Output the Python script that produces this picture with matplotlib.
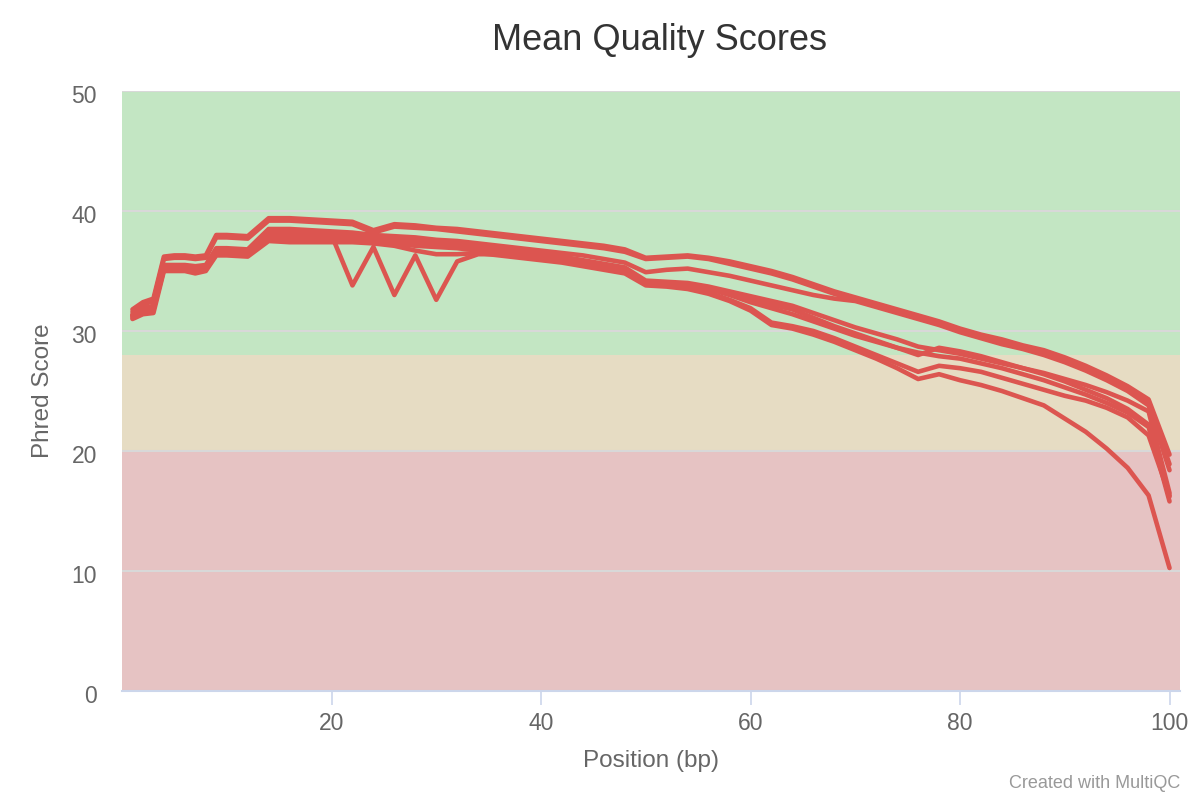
import matplotlib
matplotlib.use("Agg")
import matplotlib.pyplot as plt
import matplotlib.transforms as mtransforms

plt.rcParams['font.family'] = ['Liberation Sans', 'DejaVu Sans']

positions = [1, 2, 3, 4, 5, 6, 7, 8, 9, 10, 12, 14, 16, 18, 20, 22, 24, 26, 28, 30,
             32, 34, 36, 38, 40, 42, 44, 46, 48, 50, 52, 54, 56, 58, 60, 62, 64, 66,
             68, 70, 72, 74, 76, 78, 80, 82, 84, 86, 88, 90, 92, 94, 96, 98, 100]

sample_a = [31.8, 32.4, 32.7, 36.2, 36.3, 36.3, 36.2, 36.3, 38.0,
            38.0, 37.9, 39.4, 39.4, 39.3, 39.2, 39.1, 38.4, 38.9, 38.8, 38.6, 38.5, 38.3, 38.1,
            37.9, 37.7, 37.5, 37.3, 37.1, 36.8, 36.1, 36.2, 36.3, 36.1, 35.8, 35.4, 35.0, 34.5,
            33.9, 33.3, 32.8, 32.3, 31.8, 31.3, 30.8, 30.2, 29.7, 29.3, 28.8, 28.4, 27.8, 27.1,
            26.3, 25.4, 24.3, 19.7]
sample_b = [31.6, 32.2, 32.5, 36.0, 36.1, 36.1, 36.0, 36.1, 37.8,
            37.8, 37.7, 39.2, 39.2, 39.1, 39.0, 38.9, 38.2, 38.7, 38.6, 38.5, 38.3, 38.1, 37.9,
            37.7, 37.5, 37.3, 37.1, 36.9, 36.6, 36.0, 36.1, 36.2, 36.0, 35.6, 35.2, 34.8, 34.3,
            33.7, 33.1, 32.6, 32.1, 31.6, 31.1, 30.6, 30.0, 29.5, 29.1, 28.6, 28.2, 27.6, 26.9,
            26.1, 25.2, 24.0, 18.9]
sample_c = [31.4, 31.9, 32.1, 35.5, 35.5, 35.5, 35.4, 35.5, 36.9,
            36.9, 36.8, 38.5, 38.5, 38.4, 38.3, 38.2, 38.0, 37.9, 37.8, 37.6, 37.5, 37.3, 37.1,
            36.9, 36.7, 36.5, 36.3, 36.0, 35.7, 34.9, 35.1, 35.2, 34.9, 34.6, 34.2, 33.8, 33.4,
            33.0, 32.7, 32.5, 32.0, 31.5, 31.0, 30.5, 29.9, 29.4, 28.9, 28.5, 28.0, 27.4, 26.7,
            25.9, 25.0, 23.8, 18.4]
sample_d = [31.3, 31.8, 32.0, 35.4, 35.4, 35.4, 35.2, 35.4, 36.7,
            36.7, 36.6, 38.3, 38.2, 38.2, 38.1, 38.0, 37.8, 37.7, 37.5, 37.4, 37.2, 37.0, 36.8,
            36.6, 36.4, 36.2, 35.9, 35.6, 35.3, 34.2, 34.1, 34.0, 33.7, 33.3, 32.9, 32.5, 32.1,
            31.5, 30.9, 30.3, 29.8, 29.3, 28.7, 28.4, 28.1, 27.7, 27.3, 26.9, 26.5, 26.0, 25.5,
            24.9, 24.2, 23.3, 16.5]
sample_e = [31.2, 31.7, 31.9, 35.2, 35.2, 35.2, 35.0, 35.2, 36.5,
            36.5, 36.4, 38.1, 38.0, 37.9, 37.9, 37.8, 37.6, 37.5, 37.3, 37.2, 37.0, 36.8, 36.6,
            36.4, 36.2, 36.0, 35.7, 35.4, 35.1, 34.1, 34.0, 33.9, 33.6, 33.1, 32.6, 32.2, 31.8,
            31.1, 30.4, 29.8, 29.2, 28.6, 28.0, 28.6, 28.3, 27.9, 27.4, 26.9, 26.4, 25.8, 25.1,
            24.4, 23.5, 22.2, 15.8]
sample_f = [31.3, 31.8, 32.0, 35.3, 35.3, 35.3, 35.1, 35.3, 36.6,
            36.6, 36.5, 38.3, 38.2, 38.1, 38.0, 33.8, 37.0, 33.0, 36.3, 32.6, 35.8, 36.4, 36.4,
            36.2, 36.0, 35.8, 35.5, 35.2, 34.9, 33.9, 33.8, 33.6, 33.2, 32.6, 31.9, 30.7, 30.4,
            30.0, 29.4, 28.7, 28.0, 27.3, 26.6, 27.1, 26.9, 26.6, 26.1, 25.6, 25.1, 24.6, 24.2,
            23.6, 22.8, 21.3, 16.3]
sample_g = [31.0, 31.4, 31.5, 35.0, 35.0, 35.0, 34.8, 35.0, 36.3,
            36.3, 36.2, 37.5, 37.4, 37.4, 37.4, 37.4, 37.3, 37.1, 36.7, 36.4, 36.4, 36.5, 36.3,
            36.1, 35.9, 35.7, 35.4, 35.1, 34.8, 33.8, 33.7, 33.5, 33.1, 32.5, 31.7, 30.5, 30.2,
            29.7, 29.1, 28.4, 27.7, 26.9, 26.0, 26.4, 25.9, 25.5, 25.0, 24.4, 23.8, 22.7, 21.6,
            20.2, 18.6, 16.3, 10.25]
sample_h = [31.1, 31.6, 31.8, 35.1, 35.1, 35.1, 34.9, 35.1, 36.4,
            36.4, 36.3, 37.8, 37.7, 37.7, 37.6, 37.5, 37.4, 37.3, 37.1, 37.0, 36.9, 36.7, 36.5,
            36.3, 36.1, 35.9, 35.6, 35.3, 35.0, 34.0, 33.9, 33.8, 33.5, 33.0, 32.4, 31.9, 31.4,
            30.8, 30.2, 29.6, 29.1, 28.6, 28.2, 27.9, 27.7, 27.3, 26.9, 26.4, 25.9, 25.3, 24.7,
            24.0, 23.2, 22.0, 16.2]

samples = [sample_a, sample_b, sample_c, sample_d, sample_e, sample_f, sample_g, sample_h]

x_ticks = [20, 40, 60, 80, 100]
y_ticks = [0, 10, 20, 30, 40, 50]

fig = plt.figure(figsize=(12, 8), dpi=100)
ax = fig.add_axes([122 / 1200, 1 - 691 / 800, (1180 - 122) / 1200, 600 / 800])

ax.axhspan(28, 50, color='#c3e6c3', zorder=0, lw=0)
ax.axhspan(20, 28, color='#e6dcc3', zorder=0, lw=0)
ax.axhspan(0, 20, color='#e6c3c3', zorder=0, lw=0)
for yv in y_ticks[1:]:
    ax.axhline(yv, color='#d8d8d8', lw=1.5, zorder=1)

for s in samples:
    ax.plot(positions, s, color='#dc5550', lw=3.3, zorder=3,
            solid_joinstyle='round', solid_capstyle='round')

ax.set_xlim(0, 101)
ax.set_ylim(0, 50)
ax.set_xticks(x_ticks)
ax.set_yticks(y_ticks)
ax.tick_params(axis='x', colors='#ccd6eb', length=10, width=1.2, labelcolor='#666666',
               labelsize=16.5, pad=5)
ax.tick_params(axis='y', length=0, labelcolor='#666666', labelsize=16.5, pad=18)
shift = mtransforms.ScaledTranslation(0, -3 / 100, fig.dpi_scale_trans)
for lbl in ax.get_yticklabels():
    lbl.set_transform(lbl.get_transform() + shift)
for side in ['top', 'right', 'left']:
    ax.spines[side].set_visible(False)
ax.spines['bottom'].set_color('#ccd6eb')
ax.spines['bottom'].set_linewidth(1.5)
ax.spines['bottom'].set_zorder(4)

ax.set_xlabel('Position (bp)', fontsize=17.5, color='#666666', labelpad=11)
ax.set_ylabel('Phred Score', fontsize=17.5, color='#666666')
ax.yaxis.set_label_coords((54 - 122) / 1058, 0.5)

fig.text(0.55, 1 - 40 / 800, 'Mean Quality Scores', ha='center', va='center',
         fontsize=26, color='#333333')
fig.text(1180 / 1200, 1 - 784 / 800, 'Created with MultiQC', ha='right', va='center',
         fontsize=13, color='#999999')

fig.savefig('out.png', dpi=100)
